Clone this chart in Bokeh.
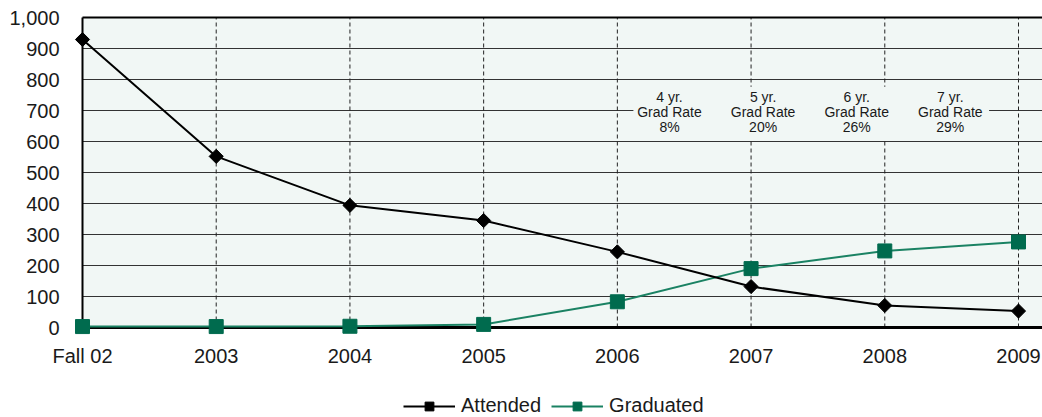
import numpy as np
from bokeh.plotting import figure
from bokeh.models import Range1d, BoxAnnotation, Legend, LegendItem, ColumnDataSource
from bokeh.core.properties import value
from bokeh.embed import file_html
from bokeh.resources import INLINE

# ---- data ----
categories = ["Fall 02", "2003", "2004", "2005", "2006", "2007", "2008", "2009"]
attended = [929, 552, 394, 345, 244, 132, 71, 53]
graduated = [3, 3, 4, 10, 83, 190, 247, 276]
rate_labels = ["4 yr.\nGrad Rate\n8%", "5 yr.\nGrad Rate\n20%",
               "6 yr.\nGrad Rate\n26%", "7 yr.\nGrad Rate\n29%"]
rate_label_x = [4.39, 5.09, 5.79, 6.49]
rate_label_y = [695, 695, 695, 695]
y_ticks = list(range(0, 1001, 100))
y_tick_labels = [f"{v:,}" for v in y_ticks]

FONT = "Liberation Sans"
BG = "#F1F7F5"
xs = list(range(len(categories)))
ymax = 1000
# frame covers the whole canvas; 0..1000 maps to px 327..17, category 0..7 to px 82..1018
px_per_unit = (1018 - 82) / 7
x_start = -82 / px_per_unit
x_end = (1042 - 82) / px_per_unit
px_per_val = 310 / ymax
y_start = -(417 - 327) / px_per_val
y_end = ymax + 17 / px_per_val

p = figure(width=1042, height=417, output_backend="svg", toolbar_location=None,
           x_range=Range1d(x_start, x_end), y_range=Range1d(y_start, y_end),
           x_axis_location=None, y_axis_location=None,
           min_border_left=0, min_border_top=0, min_border_bottom=0, min_border_right=0)
p.background_fill_color = "white"
p.border_fill_color = "white"
p.outline_line_color = None
p.xgrid.visible = False
p.ygrid.visible = False

# plotting-area background
p.add_layout(BoxAnnotation(left=0, bottom=0, top=ymax, fill_color=BG, fill_alpha=1.0,
                           line_color=None, level="image"))

# horizontal grid lines (100..900)
gsrc = ColumnDataSource(dict(y=y_ticks[1:-1]))
p.segment(x0=0, y0="y", x1=x_end, y1="y", source=gsrc, line_color="#333333", line_width=1)

# vertical dashed category lines
vsrc = ColumnDataSource(dict(x=xs[1:], y0=[0] * (len(xs) - 1), y1=[ymax] * (len(xs) - 1)))
p.segment(x0="x", y0="y0", x1="x", y1="y1", source=vsrc, line_color="#222222",
          line_width=1, line_dash="4 3")

# frame lines: top border, left axis, bottom axis
p.segment(x0=0, y0=ymax, x1=x_end, y1=ymax, line_color="black", line_width=2)
p.segment(x0=0, y0=0, x1=0, y1=ymax, line_color="black", line_width=2)
p.segment(x0=0, y0=0, x1=x_end, y1=0, line_color="black", line_width=3)

# y tick labels
ysrc = ColumnDataSource(dict(y=y_ticks, t=y_tick_labels, x=[0] * len(y_ticks)))
p.text("x", "y", text="t", source=ysrc, text_font=value(FONT), text_font_size="20px",
       text_align="right", text_baseline="middle", x_offset=-23, text_color="#1a1a1a")

# category labels under the axis
csrc = ColumnDataSource(dict(x=xs, y=[0] * len(xs), t=categories))
p.text("x", "y", text="t", source=csrc, text_font=value(FONT), text_font_size="20px",
       text_align="center", text_baseline="middle", y_offset=28, text_color="#1a1a1a")

# series
src = ColumnDataSource(dict(x=xs, att=attended, grad=graduated))
gl = p.line("x", "grad", source=src, line_color="#1a8263", line_width=2)
gm = p.scatter("x", "grad", source=src, marker="square", size=14,
               fill_color="#006B4E", line_color="#006B4E")
al = p.line("x", "att", source=src, line_color="black", line_width=2)
am = p.scatter("x", "att", source=src, marker="square", angle=np.pi / 4, size=10,
               fill_color="black", line_color="black")

# annotation box + texts
p.add_layout(BoxAnnotation(left=4.12, right=6.78, bottom=603, top=777,
                           fill_color=BG, fill_alpha=1.0, line_color=None))
tsrc = ColumnDataSource(dict(x=rate_label_x, y=rate_label_y, t=rate_labels))
tr = p.text("x", "y", text="t", source=tsrc, text_font=value(FONT), text_font_size="14px",
            text_align="center", text_baseline="middle", text_line_height=0.95,
            text_color="#1a1a1a")
tr.level = "overlay"

legend = Legend(items=[LegendItem(label="Attended", renderers=[al, am]),
                       LegendItem(label="Graduated", renderers=[gl, gm])],
                location=(403, 0), orientation="horizontal")
legend.label_text_font = FONT
legend.label_text_font_size = "20px"
legend.label_text_color = "#1a1a1a"
legend.glyph_width = 52
legend.glyph_height = 22
legend.label_standoff = 6
legend.spacing = 10
legend.padding = 0
legend.margin = 0
legend.border_line_color = None
legend.background_fill_alpha = 0
p.add_layout(legend, "center")

open("out.html", "w").write(file_html(p, INLINE))
